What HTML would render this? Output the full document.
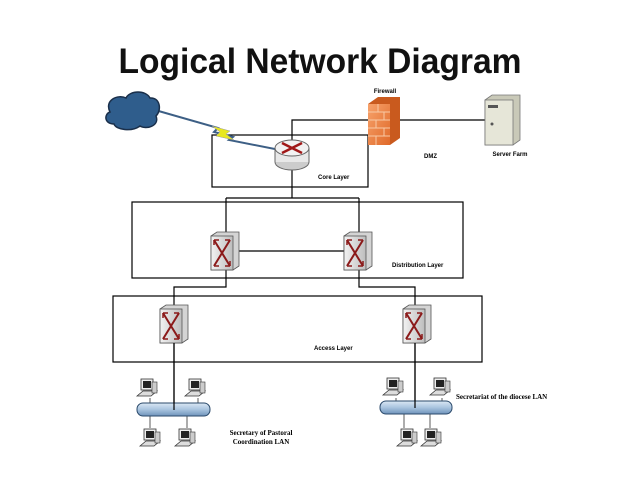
<!DOCTYPE html>
<html><head><style>body{margin:0;background:#fff}svg{display:block}</style></head><body>
<svg width="638" height="479" viewBox="0 0 638 479" xmlns="http://www.w3.org/2000/svg">
<defs>
<linearGradient id="bus" x1="0" y1="0" x2="0" y2="1"><stop offset="0" stop-color="#dbe8f4"/><stop offset="0.5" stop-color="#a9c4df"/><stop offset="1" stop-color="#6f93bb"/></linearGradient>
<linearGradient id="fw" x1="0" y1="0" x2="1" y2="1"><stop offset="0" stop-color="#f7a26b"/><stop offset="1" stop-color="#e06a2a"/></linearGradient>
<linearGradient id="sw" x1="0" y1="0" x2="1" y2="0"><stop offset="0" stop-color="#f2f2f2"/><stop offset="1" stop-color="#bdbdbd"/></linearGradient>
<g id="switch"><polygon points="0,4 6,0 28,0 28,34 22,38 0,38" fill="#d4d4d4" stroke="#555" stroke-width="0.8"/><rect x="0" y="4" width="22" height="34" fill="url(#sw)" stroke="#555" stroke-width="0.8"/><path d="M3,8 L19,34 M19,8 L3,34" stroke="#8b1a1a" stroke-width="2"/><path d="M3,8 l5,0 M3,8 l0,5 M19,34 l-5,0 M19,34 l0,-5 M19,8 l-5,0 M3,34 l5,0" stroke="#8b1a1a" stroke-width="1.5"/></g>
<g id="pc"><rect x="4" y="0" width="12" height="11" fill="#eee" stroke="#333" stroke-width="0.8"/><rect x="6" y="2" width="8" height="7" fill="#222"/><polygon points="0,17 6,12 20,12 14,17" fill="#ddd" stroke="#333" stroke-width="0.8"/><rect x="15" y="3" width="5" height="11" fill="#ccc" stroke="#333" stroke-width="0.6"/></g>
</defs>
<text x="320" y="73" text-anchor="middle" font-family="Liberation Sans, sans-serif" font-weight="bold" font-size="35" textLength="403" lengthAdjust="spacingAndGlyphs" fill="#111">Logical Network Diagram</text>
<g fill="none" stroke="#000" stroke-width="1.2">
<rect x="212" y="135" width="156" height="52"/>
<rect x="132" y="202" width="331" height="76"/>
<rect x="113" y="296" width="369" height="66"/>
<path d="M292,198 V120 H490"/>
<path d="M226,198 H359 M226,198 V287 H174 V410 M359,198 V287 H415 V408 M226,251 H359"/>
</g>
<!-- WAN link -->
<path d="M155,110 L218,128 L214,132 L233,137 L229,140 L290,152" fill="none" stroke="#3d5f85" stroke-width="2"/>
<path d="M212,126 L230,131 L226,134 L234,140 L216,136 L220,132 Z" fill="#e8e820" stroke="#999" stroke-width="0.5"/>
<!-- cloud -->
<path d="M110,112 C104,100 118,94 126,98 C130,90 146,90 150,98 C160,97 162,110 156,116 C160,126 146,130 140,126 C132,132 116,130 114,124 C104,124 104,114 110,112 Z" fill="#2f5d8c" stroke="#1a2f4a" stroke-width="1.5"/>
<!-- router -->
<ellipse cx="292" cy="162" rx="17" ry="8" fill="#ccc" stroke="#666"/>
<rect x="275" y="148" width="34" height="14" fill="#e8e8e8"/>
<line x1="275" y1="148" x2="275" y2="162" stroke="#666"/><line x1="309" y1="148" x2="309" y2="162" stroke="#666"/>
<ellipse cx="292" cy="148" rx="17" ry="8" fill="#f2f2f2" stroke="#666"/>
<path d="M282,143 L302,153 M302,143 L282,153" stroke="#a01818" stroke-width="2.5"/>
<!-- firewall -->
<polygon points="368,104 378,97 400,97 400,138 390,145 368,145" fill="#c95a1e"/>
<rect x="368" y="104" width="22" height="41" fill="url(#fw)"/>
<path d="M368,112 H390 M368,120 H390 M368,128 H390 M368,136 H390 M378,104 V112 M384,112 V120 M376,120 V128 M384,128 V136 M376,136 V145" stroke="#f8c9a5" stroke-width="1"/>
<text x="385" y="93" text-anchor="middle" font-family="Liberation Sans, sans-serif" font-size="6" font-weight="bold">Firewall</text>
<!-- server -->
<polygon points="485,100 492,95 520,95 520,140 513,145 485,145" fill="#c9c9b8" stroke="#777" stroke-width="0.8"/>
<rect x="485" y="100" width="28" height="45" fill="#e6e6d8" stroke="#777" stroke-width="0.8"/>
<rect x="488" y="105" width="10" height="3" fill="#555"/><circle cx="492" cy="124" r="1.5" fill="#555"/>
<text x="510" y="156" text-anchor="middle" font-family="Liberation Sans, sans-serif" font-size="6" font-weight="bold">Server Farm</text>
<text x="424" y="158" font-family="Liberation Sans, sans-serif" font-size="6" font-weight="bold">DMZ</text>
<text x="318" y="179" font-family="Liberation Sans, sans-serif" font-size="6" font-weight="bold">Core Layer</text>
<text x="392" y="267" font-family="Liberation Sans, sans-serif" font-size="6" font-weight="bold">Distribution Layer</text>
<text x="314" y="350" font-family="Liberation Sans, sans-serif" font-size="6" font-weight="bold">Access Layer</text>
<use href="#switch" x="211" y="232"/><use href="#switch" x="344" y="232"/>
<use href="#switch" x="160" y="305"/><use href="#switch" x="403" y="305"/>
<!-- LANs -->
<path d="M150,398 V405 M198,398 V405 M150,416 V428 M187,416 V428 M396,398 V403 M442,398 V403 M404,414 V428 M430,414 V428" stroke="#333" stroke-width="0.8"/>
<rect x="137" y="403" width="73" height="13" rx="6" fill="url(#bus)" stroke="#2b4a6b"/>
<rect x="380" y="401" width="72" height="13" rx="6" fill="url(#bus)" stroke="#2b4a6b"/>
<line x1="174" y1="343" x2="174" y2="410" stroke="#000" stroke-width="1.2"/>
<line x1="415" y1="343" x2="415" y2="408" stroke="#000" stroke-width="1.2"/>
<use href="#pc" x="137" y="379"/><use href="#pc" x="185" y="379"/>
<use href="#pc" x="140" y="429"/><use href="#pc" x="175" y="429"/>
<use href="#pc" x="383" y="378"/><use href="#pc" x="430" y="378"/>
<use href="#pc" x="397" y="429"/><use href="#pc" x="421" y="429"/>
<text x="261" y="435" text-anchor="middle" font-family="Liberation Serif, serif" font-size="7" font-weight="bold">Secretary of Pastoral</text>
<text x="261" y="444" text-anchor="middle" font-family="Liberation Serif, serif" font-size="7" font-weight="bold">Coordination LAN</text>
<text x="456" y="399" font-family="Liberation Serif, serif" font-size="7" font-weight="bold">Secretariat of the diocese LAN</text>
</svg>
</body></html>
